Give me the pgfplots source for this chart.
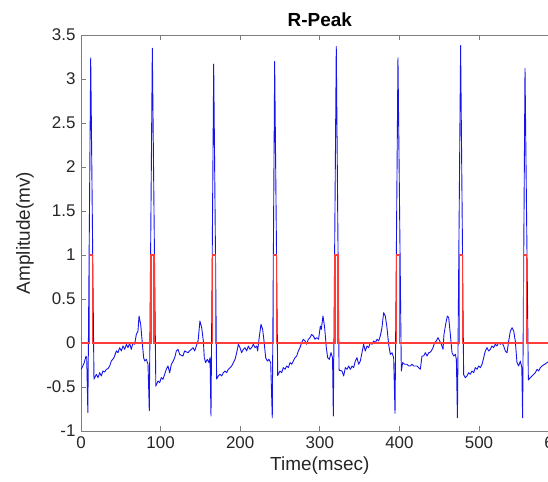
\documentclass[border=0pt]{standalone}
\usepackage{fontspec}
\setmainfont{Liberation Sans}
\usepackage{pgfplots}
\usepackage{pgfplotstable}
\pgfplotsset{compat=1.18}
\definecolor{ecgblue}{RGB}{20,20,235}
\definecolor{axgray}{RGB}{125,125,125}
\definecolor{txt}{RGB}{38,38,38}

\pgfplotstableread{
x y
0 -0.30
1.3 -0.28
3.8 -0.23
6.3 -0.15
7.2 -0.17
8.6 -0.79
12.2 3.24
16.3 -0.41
19.3 -0.356
21.4 -0.394
23.5 -0.337
25.5 -0.375
27.6 -0.318
29.7 -0.33
31.8 -0.30
34.0 -0.29
36.0 -0.261
38.1 -0.205
41.5 -0.167
44.4 -0.09
46.5 -0.11
48.6 -0.053
50.7 -0.09
52.8 -0.034
54.9 -0.072
57.0 -0.015
59.0 -0.053
61.1 -0.005
63.2 -0.072
65.3 0.003
67.4 -0.015
69.5 0.098
71.6 0.136
72.9 0.307
75.0 0.212
76.6 0.042
78.7 -0.167
80.0 -0.205
82.1 -0.186
84.2 -0.242
85.8 -0.77
89.6 3.35
94.0 -0.49
96.7 -0.432
98.8 -0.451
100.9 -0.394
103.0 -0.413
105.1 -0.356
107.2 -0.299
109.3 -0.261
111.4 -0.337
113.5 -0.242
115.6 -0.21
117.7 -0.167
119.8 -0.09
121.9 -0.072
124.0 -0.129
126.0 -0.14
128.1 -0.148
130.2 -0.09
132.3 -0.10
134.4 -0.11
136.5 -0.09
138.6 -0.072
140.7 -0.053
142.8 -0.09
144.9 -0.034
147.2 0.03
149.4 0.25
151.6 0.174
153.7 0.023
154.9 -0.167
156.6 -0.223
158.7 -0.186
160.8 -0.223
162.1 -0.167
163.3 -0.83
166.7 3.17
170.4 -0.41
172.5 -0.375
174.6 -0.356
176.7 -0.375
178.8 -0.337
180.9 -0.318
183.0 -0.337
185.1 -0.299
187.2 -0.28
189.3 -0.261
191.4 -0.223
193.5 -0.186
195.6 -0.11
197.7 -0.015
199.7 -0.053
201.8 -0.11
203.9 -0.072
206.0 -0.053
208.1 -0.091
210.2 -0.034
212.3 -0.072
214.4 -0.053
216.5 -0.015
218.6 -0.053
220.7 -0.034
221.9 -0.091
223.6 0.042
226.1 0.212
228.2 0.155
229.9 0.023
232.0 -0.167
234.1 -0.205
236.2 -0.186
238.3 -0.223
240.3 -0.85
243.3 3.20
247.1 -0.37
250.0 -0.318
252.1 -0.337
254.2 -0.28
256.3 -0.299
258.4 -0.261
260.5 -0.28
262.6 -0.223
264.7 -0.242
266.7 -0.205
268.8 -0.167
270.9 -0.148
273.0 -0.091
275.1 -0.053
277.2 0.004
279.3 0.042
281.4 0.023
283.5 -0.015
285.6 0.042
287.7 0.061
289.8 0.098
291.9 0.08
294.0 0.042
296.1 0.061
298.4 0.042
300.7 0.193
301.9 0.155
304.0 0.307
306.1 0.174
308.2 -0.053
309.9 -0.167
312.0 -0.186
314.1 -0.11
316.0 -0.167
317.0 -0.83
320.7 3.37
324.2 -0.31
327.9 -0.318
330.0 -0.375
332.1 -0.28
334.2 -0.299
336.3 -0.261
338.4 -0.299
340.5 -0.261
342.5 -0.28
344.6 -0.205
346.7 -0.167
348.8 -0.242
350.9 -0.205
353.0 -0.11
355.1 -0.015
357.2 -0.091
359.3 -0.034
361.4 -0.053
363.5 0.004
365.6 -0.015
367.7 0.023
369.8 0.004
371.9 0.042
374.0 0.023
376.0 0.08
378.1 0.174
380.2 0.345
382.3 0.307
384.4 0.174
386.5 -0.015
388.6 -0.129
390.7 -0.11
392.8 -0.167
394.5 -0.80
398.2 3.24
402.4 -0.318
404.1 -0.223
406.6 -0.242
409.5 -0.242
411.6 -0.261
413.7 -0.261
415.8 -0.242
417.9 -0.261
420.0 -0.261
422.1 -0.261
424.2 -0.28
426.3 -0.299
428.4 -0.148
430.5 -0.148
432.6 -0.11
434.7 -0.148
436.8 -0.11
438.0 -0.11
440.1 -0.091
442.2 -0.053
444.3 0.004
446.4 0.023
448.5 0.061
450.6 0.023
452.7 -0.015
454.8 -0.072
456.0 0.098
458.1 0.212
460.2 0.307
461.9 0.288
464.0 0.098
466.1 -0.11
468.2 -0.148
470.3 -0.129
471.6 -0.19
472.9 -0.85
476.9 3.38
480.7 -0.36
482.8 -0.394
484.9 -0.375
487.0 -0.337
489.1 -0.356
491.2 -0.318
493.3 -0.337
495.4 -0.28
497.5 -0.299
499.6 -0.261
501.7 -0.28
503.8 -0.242
505.9 -0.167
507.9 -0.091
510.1 -0.053
512.1 -0.091
514.2 -0.072
516.3 -0.034
518.4 -0.053
520.5 -0.015
522.6 -0.034
524.7 0.004
526.8 -0.015
528.9 0.004
531.0 -0.034
533.1 -0.091
535.2 -0.11
537.3 0.023
539.4 0.136
541.5 0.174
543.6 0.136
545.6 0.023
547.7 -0.223
549.8 -0.261
551.9 -0.205
553.8 -0.28
554.8 -0.85
557.8 3.12
562.0 -0.42
564.5 -0.394
566.6 -0.375
568.7 -0.356
570.8 -0.337
572.9 -0.299
575.0 -0.318
577.1 -0.28
579.1 -0.261
582.5 -0.242
586 -0.22
590 -0.20
594 -0.17
598 -0.15
600 -0.13
}\ecgdata

\pgfplotstableread{
x y
0 0
10.6 0
10.6 1
14.4 1
14.4 0
88.0 0
88.0 1
91.8 1
91.8 0
165.1 0
165.1 1
168.9 1
168.9 0
241.7 0
241.7 1
245.5 1
245.5 0
319.1 0
319.1 1
322.9 1
322.9 0
396.6 0
396.6 1
400.4 1
400.4 0
475.3 0
475.3 1
479.1 1
479.1 0
556.2 0
556.2 1
560.0 1
560.0 0
600 0
}\peakdata

\begin{document}
\begin{tikzpicture}
\begin{axis}[
  at={(0,0)}, anchor=south west,
  scale only axis, width=477.6bp, height=396bp,
  xmin=0, xmax=600, ymin=-1, ymax=3.5,
  xtick={0,100,200,300,400,500,600},
  ytick={-1,-0.5,0,0.5,1,1.5,2,2.5,3,3.5},
  tick align=inside, major tick length=5bp,
  axis line style={draw=axgray, line width=0.7bp},
  every tick/.style={draw=axgray, line width=0.7bp},
  tick label style={font=\fontsize{17}{20}\selectfont, text=txt},
  /pgf/number format/assume math mode=true,
  yticklabel style={/pgf/number format/fixed, xshift=-2bp},
  xticklabel style={yshift=-2bp},
  xlabel={Time(msec)}, ylabel={Amplitude(mv)},
  label style={font=\fontsize{19}{22}\selectfont, text=txt},
  xlabel style={at={(axis description cs:0.5,-0.0884)}, anchor=center},
  ylabel style={at={(axis description cs:-0.1173,0.5)}, anchor=center},
  title={R-Peak},
  every axis title shift=0pt,
  title style={font=\fontsize{19}{22}\selectfont\bfseries, text=black, at={(axis description cs:0.5,1.0379)}, anchor=center},
]
\addplot[draw=ecgblue, line width=0.9bp, line join=round] table[x=x,y=y]{\ecgdata};
\addplot[draw={rgb,255:red,255;green,60;blue,60}, line width=1.2bp] table[x=x,y=y]{\peakdata};
\coordinate (ll) at (rel axis cs:0,0);
\end{axis}
\pgfresetboundingbox
\path[use as bounding box] (ll) ++(-81bp,-51bp) rectangle ++(548bp,482bp);
\end{tikzpicture}
\end{document}
